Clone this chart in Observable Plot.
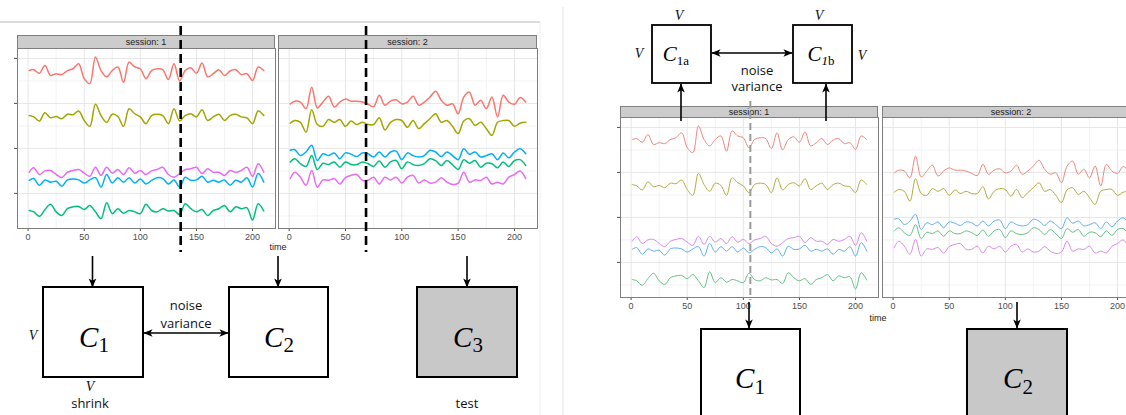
<!DOCTYPE html>
<html>
<head>
<meta charset="utf-8">
<script src="https://cdn.jsdelivr.net/npm/d3@7"></script>
<script src="https://cdn.jsdelivr.net/npm/@observablehq/plot@0.6"></script>
<style>
  html, body { margin: 0; padding: 0; background: #fff; }
  #fig { position: relative; width: 1126px; height: 415px; overflow: hidden; background: #fff; }
  .strip { position: absolute; box-sizing: border-box; background: #cccccc; border: 1px solid #7f7f7f;
           font: 9px 'Liberation Sans', Arial, sans-serif; color: #1a1a1a; text-align: center; }
  .lbl { position: absolute; font: 9px 'Liberation Sans', Arial, sans-serif; color: #1a1a1a; transform: translate(-50%, -50%); }
</style>
</head>
<body>
<div id="fig"></div>
<script>
// ---------- data ----------
const times = [1,5,10,15,20,25,30,35,40,45,50,55,60,65,70,75,80,85,90,95,100,105,110,115,120,125,130,135,140,145,150,155,160,165,170,175,180,185,190,195,200,205,210];
const seriesNames = ["1","2","3","4","5"];
const sessionLabels = ["session: 1", "session: 2"];
const xTicks = [0, 50, 100, 150, 200];
const yTicks = [1, 2, 3, 4];

// session 1
const s1Red     = [3.73,3.75,3.67,3.84,3.62,3.66,3.64,3.73,3.77,3.88,3.55,3.44,4.03,3.73,3.59,3.73,3.81,3.47,3.92,3.81,3.77,3.55,3.73,3.77,3.75,3.53,3.88,3.50,3.73,3.79,3.67,3.90,3.59,3.66,3.75,3.62,3.72,3.75,3.64,3.66,3.51,3.81,3.73];
const s1Olive   = [2.73,2.70,2.61,2.79,2.68,2.71,2.66,2.76,2.75,2.83,2.62,2.49,2.98,2.73,2.58,2.76,2.71,2.49,2.88,2.77,2.70,2.55,2.73,2.76,2.73,2.55,2.88,2.61,2.73,2.77,2.70,2.86,2.62,2.70,2.76,2.62,2.73,2.76,2.70,2.68,2.55,2.83,2.73];
const s1Green   = [0.62,0.59,0.49,0.64,0.76,0.59,0.51,0.66,0.70,0.71,0.64,0.73,0.59,0.44,0.79,0.55,0.66,0.56,0.62,0.59,0.55,0.76,0.62,0.59,0.66,0.61,0.62,0.53,0.77,0.66,0.59,0.64,0.51,0.62,0.66,0.73,0.59,0.70,0.66,0.68,0.41,0.77,0.61];
const s1Blue    = [1.29,1.33,1.18,1.30,1.25,1.27,1.16,1.30,1.32,1.30,1.23,1.30,1.35,1.14,1.42,1.23,1.35,1.25,1.35,1.23,1.32,1.21,1.29,1.35,1.33,1.21,1.30,1.14,1.36,1.29,1.30,1.38,1.25,1.29,1.25,1.30,1.18,1.29,1.25,1.35,1.14,1.44,1.25];
const s1Magenta = [1.47,1.57,1.42,1.50,1.51,1.42,1.35,1.47,1.51,1.53,1.45,1.38,1.58,1.40,1.58,1.45,1.53,1.42,1.57,1.45,1.51,1.42,1.50,1.53,1.58,1.42,1.36,1.44,1.53,1.55,1.58,1.44,1.55,1.47,1.47,1.40,1.51,1.47,1.51,1.58,1.38,1.66,1.47];

// session 2
const s2Red     = [2.99,3.05,3.03,2.88,3.36,2.90,3.03,3.16,2.92,3.03,3.10,3.05,3.05,3.03,2.98,2.93,3.18,2.96,3.05,3.08,2.99,3.03,3.16,2.96,3.03,3.14,3.27,3.07,2.96,2.99,2.77,3.14,3.25,2.96,3.07,2.88,3.14,2.70,3.18,3.03,2.98,3.13,3.03];
const s2Olive   = [2.56,2.62,2.58,2.36,2.86,2.53,2.49,2.64,2.58,2.64,2.49,2.61,2.53,2.58,2.53,2.53,2.68,2.41,2.58,2.64,2.62,2.47,2.62,2.44,2.55,2.66,2.77,2.58,2.62,2.49,2.33,2.61,2.66,2.51,2.58,2.44,2.29,2.58,2.62,2.62,2.49,2.56,2.58];
const s2Green   = [1.70,1.77,1.66,1.60,1.84,1.53,1.67,1.64,1.70,1.58,1.70,1.64,1.64,1.70,1.66,1.60,1.72,1.58,1.70,1.73,1.55,1.70,1.64,1.62,1.66,1.77,1.73,1.62,1.73,1.64,1.53,1.75,1.67,1.73,1.58,1.67,1.66,1.57,1.70,1.60,1.73,1.75,1.62];
const s2Blue    = [1.96,1.97,1.84,1.92,2.07,1.73,1.88,1.84,1.90,1.77,1.90,1.87,1.82,1.90,1.88,1.81,1.92,1.81,1.92,1.94,1.75,1.90,1.84,1.81,1.84,1.96,1.92,1.82,1.92,1.84,1.75,1.99,1.87,1.92,1.81,1.84,1.88,1.75,1.90,1.79,1.92,1.99,1.88];
const s2Magenta = [1.33,1.47,1.36,1.18,1.51,1.14,1.30,1.29,1.33,1.21,1.35,1.40,1.42,1.29,1.29,1.36,1.21,1.36,1.30,1.36,1.23,1.36,1.40,1.23,1.30,1.23,1.25,1.35,1.25,1.20,1.23,1.47,1.25,1.30,1.29,1.36,1.21,1.25,1.21,1.36,1.42,1.50,1.33];

// split times marked by dashed lines
const leftSplits = [136.4, 68.7];   // session 1, session 2 (left figure)
const rightSplit = [106.7];         // session 1 (right figure)

// ---------- build ----------
const session1 = [s1Red, s1Olive, s1Green, s1Blue, s1Magenta];
const session2 = [s2Red, s2Olive, s2Green, s2Blue, s2Magenta];
const toRows = (sess) => sess.flatMap((vals, i) => vals.map((v, j) => ({t: times[j], v, series: seriesNames[i]})));
const rows1 = toRows(session1);
const rows2 = toRows(session2);

const span = times[times.length - 1] - times[0];
const xDomain = [times[0] - 0.05 * span, times[times.length - 1] + 0.05 * span];
const yDomain = [0.22, 4.22];

const colorsLeft  = ["#F8766D", "#A3A500", "#00BF7D", "#00B0F6", "#E76BF3"];
const colorsRight = ["#ec867e", "#b1ac3e", "#62c183", "#62aef0", "#d98ae8"];

const fig = document.getElementById("fig");

function facet({rows, colors, left, top, pw, ph, sw, yAxis, strip}) {
  const ml = 8, mr = 2, mt = 1, mb = 16;
  const p = Plot.plot({
    width: pw + ml + mr, height: ph + mt + mb,
    marginLeft: ml, marginRight: mr, marginTop: mt, marginBottom: mb,
    style: {background: "transparent", fontSize: "9px", fontFamily: "'Liberation Sans', Arial, sans-serif", color: "#4d4d4d", overflow: "visible"},
    x: {domain: xDomain, ticks: xTicks, tickSize: 3, tickPadding: 2, label: null},
    y: yAxis ? {domain: yDomain, ticks: yTicks, tickSize: 3, tickFormat: () => "", label: null}
             : {domain: yDomain, axis: null},
    color: {domain: seriesNames, range: colors},
    marks: [
      Plot.ruleX([25, 75, 125, 175], {stroke: "#f3f3f3"}),
      Plot.ruleY([0.5, 1.5, 2.5, 3.5], {stroke: "#f3f3f3"}),
      Plot.ruleX(xTicks, {stroke: "#e6e6e6"}),
      Plot.ruleY(yTicks, {stroke: "#e6e6e6"}),
      Plot.line(rows, {x: "t", y: "v", z: "series", stroke: "series", strokeWidth: sw, curve: "catmull-rom"}),
      Plot.frame({stroke: "#7f7f7f"})
    ]
  });
  p.style.position = "absolute";
  p.style.left = (left - ml) + "px";
  p.style.top = (top - mt) + "px";
  fig.appendChild(p);
  const s = document.createElement("div");
  s.className = "strip";
  s.style.left = left + "px"; s.style.top = (top - strip) + "px";
  s.style.width = pw + "px"; s.style.height = (strip + 1) + "px";
  s.style.lineHeight = strip + "px";
  s.textContent = arguments[0].label;
  fig.appendChild(s);
  const sx = p.scale("x");
  return t => left - ml + sx.apply(t);
}

const L1 = facet({rows: rows1, colors: colorsLeft, left: 17, top: 48, pw: 258, ph: 180, sw: 1.5, yAxis: true, strip: 13, label: sessionLabels[0]});
const L2 = facet({rows: rows2, colors: colorsLeft, left: 278, top: 48, pw: 259, ph: 180, sw: 1.5, yAxis: false, strip: 13, label: sessionLabels[1]});
const R1 = facet({rows: rows1, colors: colorsRight, left: 620, top: 117, pw: 258, ph: 180, sw: 1, yAxis: true, strip: 11, label: sessionLabels[0]});
const R2 = facet({rows: rows2, colors: colorsRight, left: 882, top: 117, pw: 258, ph: 180, sw: 1, yAxis: false, strip: 11, label: sessionLabels[1]});

function lbl(text, x, y) {
  const d = document.createElement("div");
  d.className = "lbl"; d.textContent = text;
  d.style.left = x + "px"; d.style.top = y + "px";
  fig.appendChild(d);
}
lbl("time", 278, 247);
lbl("time", 878, 318);

// ---------- diagram overlay ----------
const xs1 = L1(leftSplits[0]), xs2 = L2(leftSplits[1]), xr = R1(rightSplit[0]);
const serif = "'Liberation Serif', 'DejaVu Serif', serif";
const sans = "'Open Sans', 'Liberation Sans', sans-serif";
function box(x1, y1, x2, y2, fill, sw) {
  return `<rect x="${x1}" y="${y1}" width="${x2 - x1}" height="${y2 - y1}" fill="${fill}" stroke="#000" stroke-width="${sw}"/>`;
}
function clab(x, y, main, sub, fs, sfs, dy, subItalic) {
  return `<text x="${x}" y="${y}" text-anchor="middle" font-family="${serif}" font-size="${fs}"><tspan font-style="italic">${main}</tspan><tspan font-size="${sfs}" dy="${dy}">${sub}</tspan></text>`;
}
function arrow(x1, y1, x2, y2, both) {
  return `<line x1="${x1}" y1="${y1}" x2="${x2}" y2="${y2}" stroke="#000" stroke-width="1.6" marker-end="url(#ah)" ${both ? 'marker-start="url(#ah)"' : ''}/>`;
}
function txt(s, x, y, fs, fam, italic) {
  return `<text x="${x}" y="${y}" text-anchor="middle" dominant-baseline="central" font-family="${fam}" font-size="${fs}" ${italic ? 'font-style="italic"' : ''} fill="#111">${s}</text>`;
}

const svg = `
<svg width="1126" height="415" style="position:absolute;left:0;top:0;pointer-events:none" xmlns="http://www.w3.org/2000/svg">
  <defs>
    <marker id="ah" viewBox="0 0 10 10" refX="9.5" refY="5" markerWidth="9" markerHeight="9" markerUnits="userSpaceOnUse" orient="auto-start-reverse">
      <path d="M0,0.8 L10,5 L0,9.2 L2.5,5 z" fill="#000"/>
    </marker>
  </defs>
  <line x1="0" y1="22" x2="540" y2="22" stroke="#cfcfcf" stroke-width="1.5"/>
  <line x1="540" y1="22" x2="540" y2="415" stroke="#f0f0f0" stroke-width="1"/>
  <line x1="563" y1="7" x2="563" y2="415" stroke="#e6e6e6" stroke-width="1"/>

  <line x1="${xs1}" y1="26" x2="${xs1}" y2="252" stroke="#000" stroke-width="2.6" stroke-dasharray="9 5"/>
  <line x1="${xs2}" y1="26" x2="${xs2}" y2="252" stroke="#000" stroke-width="2.6" stroke-dasharray="9 5"/>
  <line x1="${xr}" y1="101" x2="${xr}" y2="300" stroke="#9a9a9a" stroke-width="2" stroke-dasharray="7 4"/>

  ${arrow(92.5, 256, 92.5, 287)}
  ${arrow(278, 256, 278, 287)}
  ${arrow(467, 256, 467, 287)}
  ${box(43, 287, 143, 377, "#fff", 2)}
  ${box(229, 287, 328, 377, "#fff", 2)}
  ${box(417, 287, 517, 377, "#c8c8c8", 2)}
  ${arrow(144, 333, 228, 333, true)}
  ${clab(94, 347, "C", "1", 29, 21, 5)}
  ${clab(279, 347, "C", "2", 29, 21, 5)}
  ${clab(468, 347, "C", "3", 29, 21, 5)}
  ${txt("noise", 186, 305, 13, sans)}
  ${txt("variance", 186, 323, 13, sans)}
  ${txt("V", 33, 335, 14, serif, true)}
  ${txt("V", 90, 386, 14, serif, true)}
  ${txt("shrink", 90, 403, 13, sans)}
  ${txt("test", 467, 403, 13, sans)}

  ${box(652, 25, 711, 83, "#fff", 1.8)}
  ${box(793, 25, 852, 83, "#fff", 1.8)}
  ${arrow(712, 53, 792, 53, true)}
  ${clab(676, 61, "C", "1a", 21, 13, 4)}
  <text x="821" y="61" text-anchor="middle" font-family="${serif}" font-size="21"><tspan font-style="italic">C</tspan><tspan font-size="13" dy="4" font-style="italic">1</tspan><tspan font-size="13">b</tspan></text>
  ${txt("noise", 757, 70, 13, sans)}
  ${txt("variance", 757, 86, 13, sans)}
  ${txt("V", 679, 15, 14, serif, true)}
  ${txt("V", 639, 53, 14, serif, true)}
  ${txt("V", 819, 15, 14, serif, true)}
  ${txt("V", 862, 55, 14, serif, true)}
  ${arrow(681, 121, 681, 84)}
  ${arrow(826, 121, 826, 84)}

  ${arrow(749, 302, 749, 328)}
  ${arrow(1017, 302, 1017, 328)}
  ${box(701, 329, 800, 422, "#fff", 2)}
  ${box(967, 329, 1067, 422, "#c8c8c8", 2)}
  ${clab(750, 388, "C", "1", 29, 21, 6)}
  ${clab(1018, 388, "C", "2", 29, 21, 6)}
</svg>`;
fig.insertAdjacentHTML("beforeend", svg);
</script>
</body>
</html>
